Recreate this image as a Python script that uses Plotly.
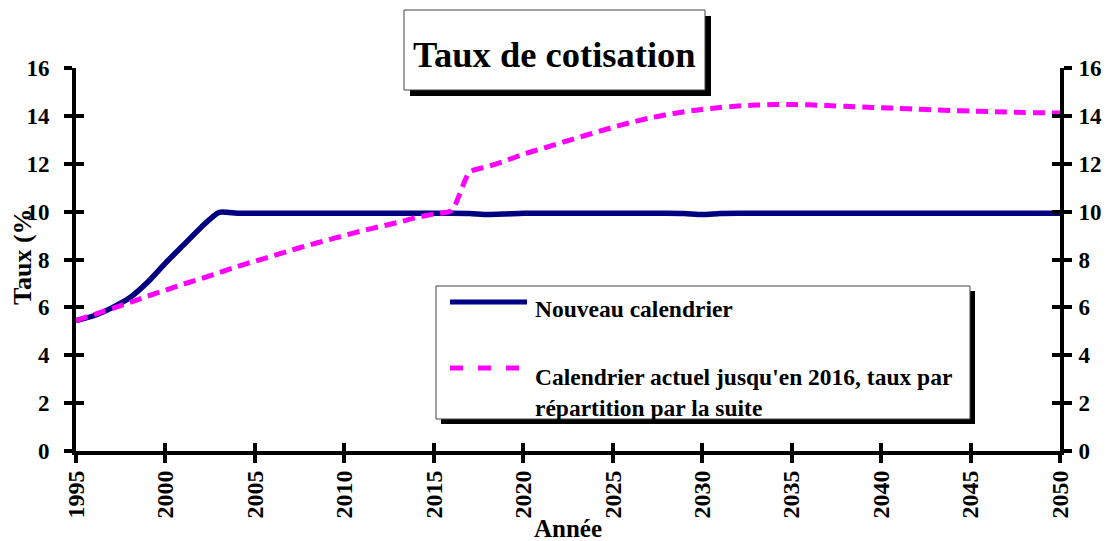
import plotly.graph_objects as go

years = [1995, 1996, 1997, 1998, 1999, 2000, 2001, 2002, 2003, 2004,
         2005, 2006, 2007, 2008, 2009, 2010, 2011, 2012, 2013, 2014,
         2015, 2016, 2017, 2018, 2019, 2020, 2021, 2022, 2023, 2024,
         2025, 2026, 2027, 2028, 2029, 2030, 2031, 2032, 2033, 2034,
         2035, 2036, 2037, 2038, 2039, 2040, 2041, 2042, 2043, 2044,
         2045, 2046, 2047, 2048, 2049, 2050]

nouveau = [5.45, 5.65, 5.98, 6.40, 7.05, 7.85, 8.60, 9.35, 9.97, 9.93,
           9.93, 9.93, 9.93, 9.93, 9.93, 9.93, 9.93, 9.93, 9.93, 9.93,
           9.93, 9.93, 9.92, 9.88, 9.90, 9.93, 9.93, 9.93, 9.93, 9.93,
           9.93, 9.93, 9.93, 9.93, 9.92, 9.88, 9.92, 9.93, 9.93, 9.93,
           9.93, 9.93, 9.93, 9.93, 9.93, 9.93, 9.93, 9.93, 9.93, 9.93,
           9.93, 9.93, 9.93, 9.93, 9.93, 9.93]

actuel = [5.45, 5.70, 5.95, 6.20, 6.47, 6.72, 6.97, 7.20, 7.45, 7.70,
          7.93, 8.15, 8.38, 8.60, 8.80, 9.00, 9.20, 9.38, 9.55, 9.75,
          9.90, 10.05, 11.65, 11.88, 12.12, 12.40, 12.62, 12.85, 13.08, 13.30,
          13.52, 13.72, 13.90, 14.05, 14.17, 14.27, 14.35, 14.41, 14.45, 14.47,
          14.47, 14.46, 14.43, 14.40, 14.37, 14.34, 14.31, 14.28, 14.25, 14.22,
          14.20, 14.18, 14.16, 14.14, 14.13, 14.12]

x_ticks = [1995, 2000, 2005, 2010, 2015, 2020, 2025, 2030, 2035, 2040, 2045, 2050]
y_ticks = [0, 2, 4, 6, 8, 10, 12, 14, 16]

title_text = "Taux de cotisation"
x_title = "Année"
y_title = "Taux (%"
legend_names = ["Nouveau calendrier",
                "Calendrier actuel jusqu'en 2016, taux par<br>répartition par la suite"]

W, H = 1107, 541
ML, MR, MT, MB = 76, 47, 68, 90
PW, PH = W - ML - MR, H - MT - MB


def px(xp):
    return (xp - ML) / PW


def py(yp):
    return (H - MB - yp) / PH


FONT = "Liberation Serif"
NAVY = "#000080"
MAG = "#FF00FF"

fig = go.Figure()
fig.add_trace(go.Scatter(x=years, y=nouveau, mode="lines", name=legend_names[0],
                         line=dict(color=NAVY, width=5.5, shape="spline", smoothing=0.6),
                         showlegend=False, hoverinfo="skip"))
fig.add_trace(go.Scatter(x=years, y=actuel, mode="lines", name="actuel",
                         line=dict(color=MAG, width=5, dash="12px,7px", shape="spline", smoothing=0.6),
                         showlegend=False, hoverinfo="skip"))
# invisible helper traces for the extra tick axes
for xa, ya in [("x2", "y"), ("x", "y2"), ("x", "y3"), ("x", "y4")]:
    fig.add_trace(go.Scatter(x=[years[0], years[-1]], y=[y_ticks[0], y_ticks[-1]], mode="none",
                             xaxis=xa, yaxis=ya, showlegend=False, hoverinfo="skip"))

ytickfont = dict(family=FONT, size=23, color="black", weight="bold")
xtickfont = dict(family=FONT, size=24, color="black", weight="bold")
common_y = dict(range=[0, 16], tickvals=y_ticks, showgrid=False, zeroline=False, automargin=False,
                tickwidth=4, ticklen=8, tickcolor="black", fixedrange=True)
common_x = dict(range=[1995, 2050], tickvals=x_ticks, showgrid=False, zeroline=False, automargin=False,
                tickwidth=4, ticklen=8, tickcolor="black", fixedrange=True)

fig.update_layout(
    width=W, height=H, autosize=False,
    margin=dict(l=ML, r=MR, t=MT, b=MB, pad=0, autoexpand=False),
    paper_bgcolor="white", plot_bgcolor="white",
    xaxis=dict(**common_x, ticks="outside", showline=True, linewidth=4, linecolor="black",
               tickangle=-90, tickfont=xtickfont, ticklabelstandoff=-2),
    xaxis2=dict(**common_x, ticks="inside", overlaying="x", anchor="y", showline=False,
                showticklabels=False, side="bottom"),
    yaxis=dict(**common_y, ticks="outside", showline=True, linewidth=4, linecolor="black",
               tickfont=ytickfont, ticklabelstandoff=10),
    yaxis2=dict(**common_y, ticks="outside", side="right", overlaying="y", anchor="x",
                showline=True, linewidth=4, linecolor="black", tickfont=ytickfont,
                ticklabelstandoff=2),
    yaxis3=dict(**common_y, ticks="inside", side="left", overlaying="y", anchor="x",
                showline=False, showticklabels=False),
    yaxis4=dict(**common_y, ticks="inside", side="right", overlaying="y", anchor="x",
                showline=False, showticklabels=False),
    showlegend=False,
)

shapes = []
# title box with shadow
shapes.append(dict(type="rect", xref="paper", yref="paper", x0=px(410), x1=px(711),
                   y0=py(96), y1=py(16), fillcolor="black", line=dict(width=0)))
shapes.append(dict(type="rect", xref="paper", yref="paper", x0=px(404), x1=px(705),
                   y0=py(90), y1=py(10), fillcolor="white", line=dict(color="#444", width=1)))
# legend box with shadow
shapes.append(dict(type="rect", xref="paper", yref="paper", x0=px(441), x1=px(975),
                   y0=py(424), y1=py(291), fillcolor="black", line=dict(width=0)))
shapes.append(dict(type="rect", xref="paper", yref="paper", x0=px(436), x1=px(970),
                   y0=py(419), y1=py(286), fillcolor="white", line=dict(color="#444", width=1)))
# legend samples
shapes.append(dict(type="line", xref="paper", yref="paper", x0=px(450), x1=px(527),
                   y0=py(302), y1=py(302), line=dict(color=NAVY, width=5)))
shapes.append(dict(type="line", xref="paper", yref="paper", x0=px(450), x1=px(523),
                   y0=py(368), y1=py(368), line=dict(color=MAG, width=5, dash="13px,15px")))
fig.update_layout(shapes=shapes)

ann = []
ann.append(dict(text=title_text, xref="paper", yref="paper", x=px(554.5), y=py(55),
                xanchor="center", yanchor="middle", showarrow=False,
                font=dict(family=FONT, size=36.5, color="black", weight="bold")))
ann.append(dict(text=x_title, xref="paper", yref="paper", x=px(568), y=py(528),
                xanchor="center", yanchor="middle", showarrow=False,
                font=dict(family=FONT, size=25, color="black", weight="bold")))
ann.append(dict(text=y_title, xref="paper", yref="paper", x=px(22), y=py(257),
                xanchor="center", yanchor="middle", showarrow=False, textangle=-90,
                font=dict(family=FONT, size=26, color="black", weight="bold")))
ann.append(dict(text=legend_names[0], xref="paper", yref="paper", x=px(533), y=py(309),
                xanchor="left", yanchor="middle", showarrow=False,
                font=dict(family=FONT, size=23.5, color="black", weight="bold")))
ann.append(dict(text=legend_names[1], xref="paper", yref="paper", x=px(533), y=py(392),
                xanchor="left", yanchor="middle", showarrow=False, align="left",
                font=dict(family=FONT, size=23.5, color="black", weight="bold")))
fig.update_layout(annotations=ann)

fig.write_html(
    "out.html",
    config={"responsive": False, "displayModeBar": False},
    post_script="document.body.style.margin='0px';document.body.style.overflow='hidden';",
)
